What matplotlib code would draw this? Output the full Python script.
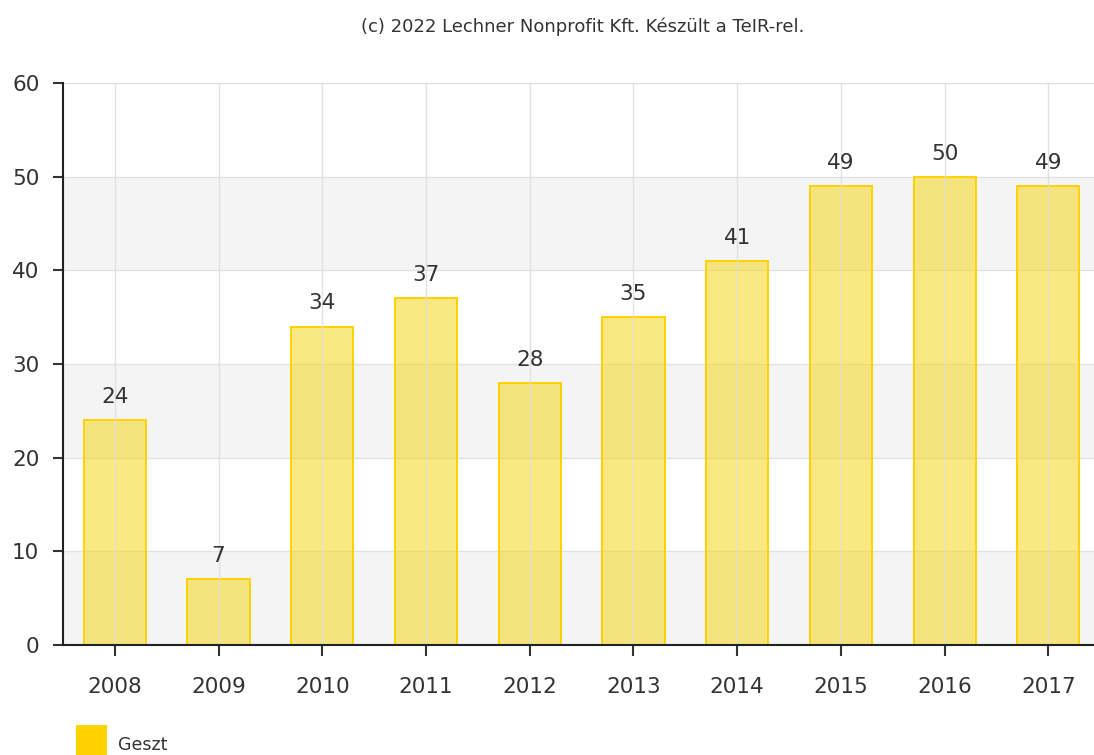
import numpy as np
import matplotlib.pyplot as plt
from matplotlib.patches import Rectangle

years = ['2008', '2009', '2010', '2011', '2012', '2013', '2014', '2015', '2016', '2017']
geszt = [24, 7, 34, 37, 28, 35, 41, 49, 50, 49]

W, H = 1094, 755
fig = plt.figure(figsize=(W / 100, H / 100), dpi=100)
ax = fig.add_axes([63 / W, 110 / H, (W - 63) / W, (645 - 83) / H])

x = np.arange(len(years))

# alternating bands
for lo in (0, 20, 40):
    ax.axhspan(lo, lo + 10, color='#f4f4f4', zorder=0, lw=0)

ax.bar(x, geszt, 0.6, facecolor=(0.97, 0.83, 0.03, 0.5), edgecolor='#ffd200',
       linewidth=1.4, zorder=2)

# grid lines
for yv in range(10, 61, 10):
    ax.axhline(yv, color='#e2e2e2', lw=1, zorder=1)
for xv in x:
    ax.axvline(xv, color='#dddddd', lw=1, zorder=3, alpha=0.8)

for xi, v in zip(x, geszt):
    ax.text(xi, v + 1.4, str(v), ha='center', va='bottom', fontsize=15.5,
            color='#333333', zorder=4)

ax.set_xlim(-0.5, 9.44)
ax.set_ylim(0, 60)
ax.set_xticks(x)
ax.set_xticklabels(years)
ax.set_yticks(range(0, 61, 10))

for s in ('top', 'right'):
    ax.spines[s].set_visible(False)
for s in ('left', 'bottom'):
    ax.spines[s].set_color('#222222')
    ax.spines[s].set_linewidth(1.5)
    ax.spines[s].set_zorder(5)

ax.tick_params(axis='both', colors='#333333', labelsize=15.5, width=1.5,
               labelcolor='#333333')
ax.tick_params(axis='y', length=7, pad=10)
ax.tick_params(axis='x', length=8, pad=15)

fig.text(583 / W, 1 - 27 / H, '(c) 2022 Lechner Nonprofit Kft. Készült a TeIR-rel.',
         ha='center', va='center', fontsize=13, color='#333333')

# legend
fig.add_artist(Rectangle((76 / W, 0), 31 / W, 30 / H, transform=fig.transFigure,
                         facecolor='#ffd200', edgecolor='none'))
fig.text(118 / W, 1 - 745 / H, 'Geszt', ha='left', va='center', fontsize=12.5,
         color='#333333')

fig.savefig('out.png', dpi=100)
